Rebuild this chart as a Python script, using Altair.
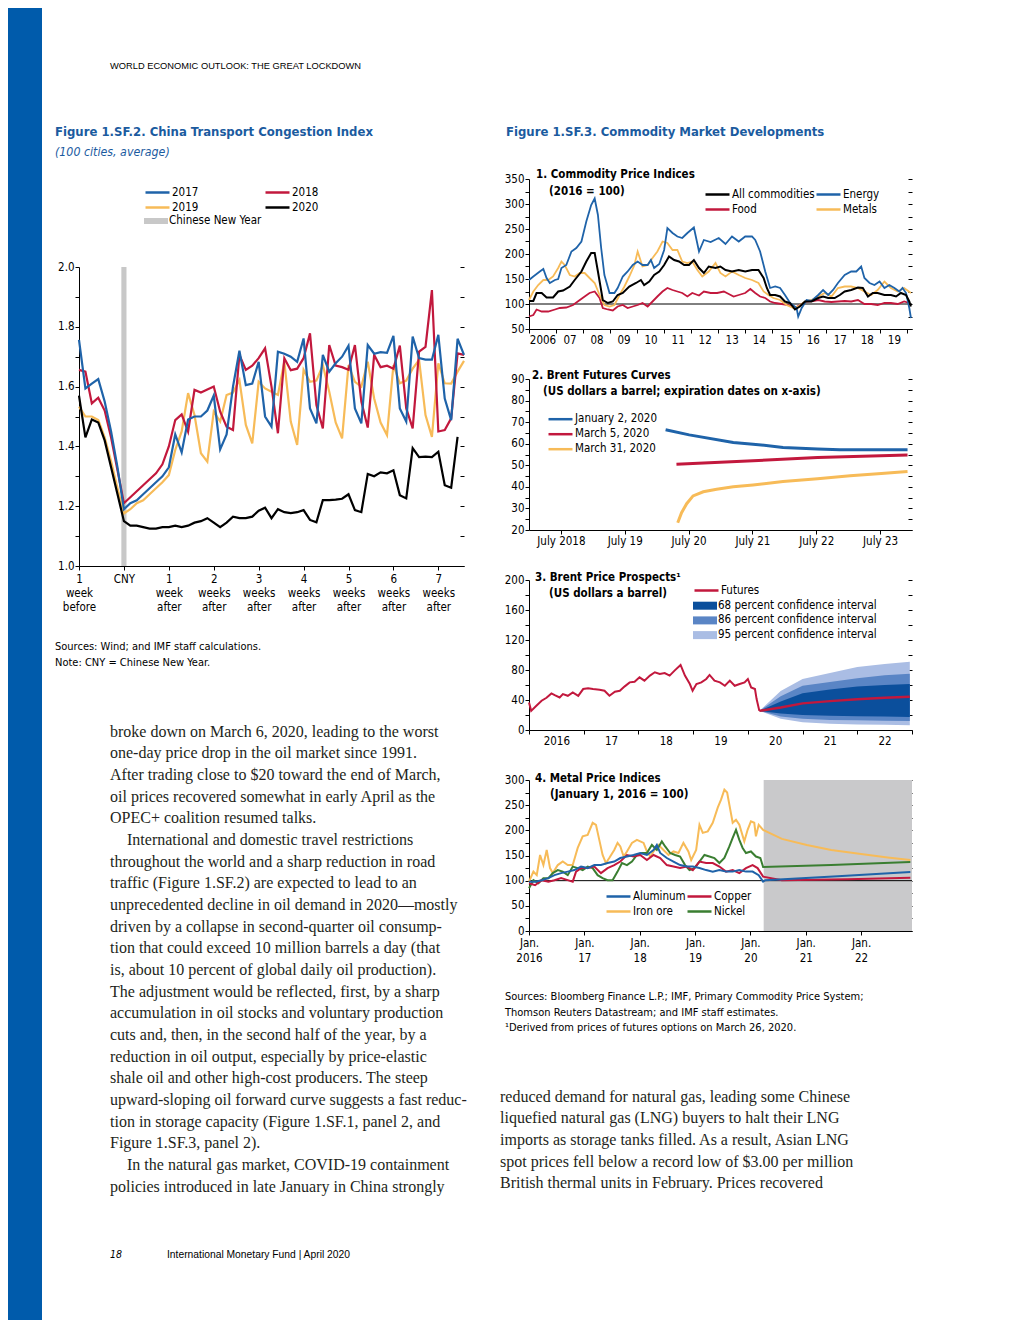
import altair as alt
import pandas as pd

FONT = "DejaVu Sans Condensed, Liberation Sans Narrow, Arial Narrow, sans-serif"
SANS = "Liberation Sans, Arial, sans-serif"
SERIF = "Liberation Serif, Times New Roman, serif"
TITLE_BLUE = "#1b5b9f"
BAND_BLUE = "#005bab"
BLUE = "#1f63a9"
RED = "#c2183d"
YELLOW = "#f7bb58"
BLACK = "#000000"
GREEN = "#3a7e31"
CI68 = "#0b4f9c"
CI86 = "#5a85c5"
CI95 = "#aabde4"
SHADE = "#c9c9cb"
CNYGREY = "#c8c8c8"
FS = 11.5

# ---------------- Figure 1.SF.2 data (days relative to Chinese New Year) ----------------
y2017 = [1.756, 1.594, 1.61, 1.625, 1.55, 1.45, 1.33, 1.19, 1.21, 1.22, 1.24, 1.26, 1.28, 1.30, 1.33,
         1.44, 1.38, 1.49, 1.50, 1.50, 1.52, 1.57, 1.39, 1.44, 1.60, 1.72, 1.605, 1.61, 1.683, 1.50,
         1.466, 1.717, 1.71, 1.70, 1.683, 1.761, 1.527, 1.477, 1.706, 1.65, 1.678, 1.70, 1.737, 1.527,
         1.477, 1.739, 1.71, 1.715, 1.713, 1.77, 1.527, 1.483, 1.767, 1.695, 1.69, 1.69, 1.773, 1.56,
         1.488, 1.76, 1.706]
y2018 = [1.656, 1.65, 1.544, 1.563, 1.52, 1.43, 1.32, 1.21, 1.23, 1.25, 1.27, 1.29, 1.31, 1.34, 1.40,
         1.488, 1.507, 1.449, 1.589, 1.58, 1.59, 1.60, 1.516, 1.466, 1.455, 1.706, 1.656, 1.67, 1.695,
         1.728, 1.60, 1.444, 1.695, 1.655, 1.66, 1.695, 1.778, 1.538, 1.46, 1.739, 1.67, 1.665, 1.656,
         1.739, 1.55, 1.463, 1.706, 1.665, 1.67, 1.66, 1.737, 1.527, 1.46, 1.717, 1.733, 1.923, 1.45,
         1.455, 1.494, 1.711, 1.706]
y2019 = [1.533, 1.50, 1.50, 1.488, 1.43, 1.35, 1.26, 1.176, 1.19, 1.21, 1.22, 1.24, 1.26, 1.28, 1.304,
         1.388, 1.45, 1.578, 1.505, 1.377, 1.349, 1.516, 1.483, 1.572, 1.58, 1.622, 1.472, 1.41, 1.616,
         1.594, 1.583, 1.572, 1.683, 1.483, 1.405, 1.656, 1.616, 1.62, 1.672, 1.583, 1.48, 1.427, 1.672,
         1.616, 1.6, 1.683, 1.56, 1.48, 1.438, 1.672, 1.611, 1.62, 1.66, 1.689, 1.505, 1.432, 1.678,
         1.611, 1.61, 1.65, 1.686]
y2020 = [1.57, 1.43, 1.49, 1.48, 1.42, 1.33, 1.24, 1.15, 1.135, 1.135, 1.13, 1.125, 1.125, 1.13, 1.13,
         1.135, 1.13, 1.135, 1.145, 1.15, 1.16, 1.145, 1.13, 1.145, 1.165, 1.16, 1.16, 1.165, 1.185,
         1.195, 1.16, 1.19, 1.18, 1.177, 1.18, 1.187, 1.154, 1.146, 1.22, 1.22, 1.222, 1.225, 1.24,
         1.187, 1.18, 1.308, 1.30, 1.313, 1.31, 1.32, 1.237, 1.226, 1.394, 1.364, 1.366, 1.364, 1.382,
         1.27, 1.262, 1.432]
cong_years = ["2017", "2018", "2019", "2020"]
week_ticks = [-7, 0, 7, 14, 21, 28, 35, 42, 49]

# ---------------- Panel 1: commodity price indices ----------------
energy_t = [2006.00, 2006.16, 2006.40, 2006.53, 2006.65, 2006.77, 2006.96, 2007.08, 2007.20, 2007.38, 2007.57,
            2007.75, 2007.94, 2008.12, 2008.30, 2008.43, 2008.55, 2008.67, 2008.79, 2008.98, 2009.16, 2009.28,
            2009.47, 2009.65, 2009.84, 2010.02, 2010.20, 2010.39, 2010.51, 2010.63, 2010.82, 2011.00, 2011.12,
            2011.31, 2011.49, 2011.67, 2011.86, 2012.10, 2012.29, 2012.47, 2012.72, 2013.02, 2013.27, 2013.51,
            2013.76, 2014.00, 2014.25, 2014.37, 2014.55, 2014.74, 2014.92, 2015.11, 2015.29, 2015.47, 2015.66,
            2015.90, 2015.96, 2016.09, 2016.27, 2016.45, 2016.70, 2016.88, 2017.07, 2017.25, 2017.43, 2017.68,
            2017.92, 2018.11, 2018.29, 2018.41, 2018.60, 2018.78, 2018.97, 2019.15, 2019.33, 2019.52, 2019.70,
            2019.82, 2019.95, 2020.07, 2020.13]
energy_v = [148, 155, 165, 170, 152, 142, 148, 150, 172, 178, 205, 212, 225, 265, 298, 311, 278, 212, 158, 122,
            122, 132, 155, 165, 178, 185, 178, 178, 188, 172, 180, 208, 252, 242, 235, 232, 242, 253, 205, 228,
            224, 232, 220, 235, 225, 235, 235, 228, 205, 165, 132, 135, 132, 118, 102, 92, 75, 92, 108, 106,
            118, 128, 118, 128, 142, 158, 165, 165, 175, 152, 142, 138, 145, 132, 138, 132, 125, 132, 122, 92, 72]
all_t = [2006.00, 2006.16, 2006.28, 2006.47, 2006.65, 2006.89, 2007.08, 2007.26, 2007.51, 2007.69, 2007.94,
         2008.12, 2008.30, 2008.43, 2008.55, 2008.73, 2008.92, 2009.10, 2009.28, 2009.47, 2009.71, 2009.96,
         2010.14, 2010.26, 2010.45, 2010.63, 2010.82, 2011.00, 2011.18, 2011.37, 2011.55, 2011.74, 2011.92,
         2012.10, 2012.29, 2012.47, 2012.65, 2012.90, 2013.08, 2013.27, 2013.51, 2013.76, 2014.00, 2014.25,
         2014.49, 2014.68, 2014.80, 2014.92, 2015.11, 2015.29, 2015.47, 2015.66, 2015.84, 2016.02, 2016.21,
         2016.45, 2016.70, 2016.88, 2017.07, 2017.31, 2017.50, 2017.68, 2017.92, 2018.17, 2018.35, 2018.54,
         2018.72, 2018.90, 2019.15, 2019.39, 2019.58, 2019.76, 2019.95, 2020.07, 2020.13]
all_v = [106, 106, 122, 122, 113, 113, 125, 127, 135, 148, 165, 185, 202, 202, 165, 108, 102, 105, 118, 122,
         135, 142, 148, 138, 145, 158, 165, 178, 195, 188, 185, 178, 178, 188, 172, 162, 175, 172, 175, 168,
         165, 168, 165, 168, 168, 152, 132, 118, 118, 115, 105, 102, 89, 95, 105, 105, 112, 115, 112, 112,
         118, 125, 128, 133, 132, 115, 122, 122, 118, 118, 115, 122, 118, 105, 95]
food_t = [2006.00, 2006.16, 2006.28, 2006.47, 2006.71, 2006.96, 2007.14, 2007.38, 2007.63, 2007.88, 2008.06,
          2008.24, 2008.43, 2008.61, 2008.73, 2008.92, 2009.10, 2009.28, 2009.47, 2009.65, 2009.84, 2010.02,
          2010.20, 2010.39, 2010.57, 2010.75, 2010.94, 2011.12, 2011.31, 2011.49, 2011.67, 2011.86, 2012.04,
          2012.29, 2012.47, 2012.72, 2012.96, 2013.21, 2013.39, 2013.57, 2013.76, 2014.00, 2014.19, 2014.37,
          2014.55, 2014.74, 2014.92, 2015.11, 2015.35, 2015.60, 2015.84, 2016.02, 2016.27, 2016.51, 2016.70,
          2016.94, 2017.19, 2017.43, 2017.68, 2017.92, 2018.17, 2018.41, 2018.66, 2018.90, 2019.15, 2019.39,
          2019.64, 2019.88, 2020.07]
food_v = [75, 78, 89, 85, 85, 89, 92, 93, 98, 108, 115, 122, 125, 112, 92, 89, 87, 95, 98, 92, 95, 98, 102,
          95, 105, 115, 125, 132, 128, 125, 122, 115, 122, 117, 125, 122, 122, 125, 120, 115, 118, 122, 130,
          122, 115, 112, 105, 102, 100, 98, 92, 98, 105, 106, 108, 105, 104, 105, 106, 105, 108, 100, 100, 98,
          102, 102, 100, 105, 102]
metals_t = [2006.00, 2006.16, 2006.34, 2006.53, 2006.71, 2006.89, 2007.08, 2007.20, 2007.32, 2007.51, 2007.69,
            2007.88, 2008.06, 2008.24, 2008.43, 2008.61, 2008.79, 2008.98, 2009.16, 2009.35, 2009.53, 2009.71,
            2009.90, 2010.02, 2010.20, 2010.39, 2010.57, 2010.75, 2010.94, 2011.12, 2011.31, 2011.49, 2011.67,
            2011.86, 2012.04, 2012.23, 2012.41, 2012.65, 2012.90, 2013.08, 2013.27, 2013.51, 2013.76, 2014.00,
            2014.25, 2014.49, 2014.68, 2014.86, 2015.04, 2015.29, 2015.53, 2015.78, 2015.96, 2016.21, 2016.45,
            2016.70, 2016.94, 2017.19, 2017.43, 2017.68, 2017.92, 2018.17, 2018.41, 2018.66, 2018.90, 2019.15,
            2019.39, 2019.64, 2019.88, 2020.13]
metals_v = [108, 125, 138, 148, 148, 155, 172, 185, 178, 158, 155, 162, 162, 152, 142, 118, 98, 95, 98, 118,
            135, 155, 178, 205, 175, 178, 192, 205, 225, 222, 208, 208, 185, 182, 185, 168, 155, 165, 182, 162,
            155, 165, 158, 152, 148, 142, 125, 118, 112, 108, 98, 92, 95, 105, 108, 115, 122, 115, 132, 135,
            135, 132, 125, 118, 128, 145, 132, 125, 132, 122]
# legend fills column by column: row 1 = All commodities, Energy; row 2 = Food, Metals
p1_names = ["All commodities", "Food", "Energy", "Metals"]
p1_years = list(range(2006, 2021))

# ---------------- Panel 2: Brent futures curves ----------------
jan2_t = [2020.14, 2020.51, 2021.20, 2021.51, 2021.98, 2022.52, 2022.87, 2023.52, 2023.93]
jan2_v = [66.5, 64.1, 60.6, 59.8, 58.3, 57.5, 57.2, 57.2, 57.2]
mar5_t = [2020.31, 2021.51, 2022.52, 2023.93]
mar5_v = [50.5, 52.1, 53.6, 54.8]
mar31_t = [2020.33, 2020.39, 2020.47, 2020.57, 2020.73, 2020.94, 2021.20, 2021.51, 2021.98, 2022.52, 2023.03,
           2023.52, 2023.93]
mar31_v = [23.4, 28, 32.2, 35.8, 37.7, 38.9, 40, 40.9, 42.5, 43.8, 45.1, 46.2, 47.1]
p2_names = ["January 2, 2020", "March 5, 2020", "March 31, 2020"]

# ---------------- Panel 3: Brent price prospects ----------------
brent_t = [2016.00, 2016.04, 2016.13, 2016.23, 2016.32, 2016.41, 2016.47, 2016.56, 2016.62, 2016.71, 2016.80,
           2016.90, 2016.99, 2017.08, 2017.17, 2017.29, 2017.38, 2017.47, 2017.57, 2017.66, 2017.75, 2017.84,
           2017.93, 2018.02, 2018.11, 2018.21, 2018.30, 2018.39, 2018.48, 2018.57, 2018.66, 2018.77, 2018.85,
           2018.94, 2018.99, 2019.06, 2019.15, 2019.24, 2019.30, 2019.39, 2019.49, 2019.58, 2019.67, 2019.76,
           2019.85, 2019.94, 2020.00, 2020.06, 2020.13, 2020.16, 2020.21]
brent_v = [36.7, 25.5, 32, 39, 43, 48.8, 46.5, 43.4, 47.9, 45.6, 50.1, 45.6, 54.6, 55.5, 54.6, 53.7, 52.3,
           45.6, 51, 52.3, 58.2, 63.5, 64.4, 70.2, 65.8, 72.5, 77, 74.7, 76, 72.5, 79.2, 86.8, 72.5, 61.3,
           52.3, 61.3, 63.5, 68, 73.4, 65.8, 63.5, 59, 65.8, 59, 61.3, 63.5, 68, 56.8, 54.6, 41.2, 25.5]
fan_t = [2020.21, 2020.60, 2021.00, 2021.50, 2022.00, 2022.50, 2022.96]
futures_v = [25.5, 30, 35.5, 38.5, 41, 43, 44.3]
ci68_lo = [25.5, 22, 20, 19, 18.5, 18, 17.5]
ci68_hi = [25.5, 38, 49, 54, 58, 60, 61.5]
ci86_lo = [25.5, 18, 15, 13.5, 13, 12.5, 12]
ci86_hi = [25.5, 45, 59, 64, 69, 73, 75]
ci95_lo = [25.5, 15, 10.5, 8.5, 7.5, 7, 6.5]
ci95_hi = [25.5, 52, 68, 76, 84, 88, 91]
ci_names = ["68 percent confidence interval", "86 percent confidence interval", "95 percent confidence interval"]

# ---------------- Panel 4: metal price indices ----------------
iron_t = [2016.00, 2016.08, 2016.14, 2016.20, 2016.26, 2016.32, 2016.38, 2016.43, 2016.52, 2016.61, 2016.70,
          2016.79, 2016.88, 2016.97, 2017.06, 2017.15, 2017.21, 2017.27, 2017.33, 2017.39, 2017.45, 2017.54,
          2017.60, 2017.65, 2017.71, 2017.77, 2017.86, 2017.95, 2018.01, 2018.07, 2018.13, 2018.19, 2018.25,
          2018.34, 2018.43, 2018.52, 2018.61, 2018.70, 2018.79, 2018.88, 2018.93, 2019.02, 2019.08, 2019.14,
          2019.23, 2019.32, 2019.41, 2019.47, 2019.53, 2019.58, 2019.62, 2019.68, 2019.74, 2019.80, 2019.89,
          2019.95, 2020.01, 2020.07, 2020.10, 2020.15, 2020.23, 2020.57, 2021.02, 2021.46, 2022.00, 2022.48,
          2022.89]
iron_v = [98, 118, 111, 151, 131, 161, 125, 115, 131, 138, 131, 131, 165, 188, 191, 215, 211, 181, 151, 135,
          145, 161, 175, 168, 148, 158, 175, 181, 178, 175, 158, 148, 158, 171, 161, 151, 158, 155, 175, 158,
          141, 161, 211, 195, 198, 215, 245, 261, 281, 275, 251, 215, 221, 211, 178, 201, 218, 215, 188, 211,
          201, 183, 171, 161, 153, 146, 141]
nickel_t = [2016.00, 2016.08, 2016.17, 2016.26, 2016.35, 2016.43, 2016.52, 2016.61, 2016.70, 2016.79, 2016.88,
            2016.97, 2017.06, 2017.15, 2017.24, 2017.33, 2017.42, 2017.51, 2017.60, 2017.68, 2017.77, 2017.86,
            2017.95, 2018.04, 2018.13, 2018.22, 2018.31, 2018.40, 2018.46, 2018.55, 2018.64, 2018.73, 2018.82,
            2018.90, 2018.99, 2019.08, 2019.17, 2019.26, 2019.35, 2019.44, 2019.53, 2019.62, 2019.68, 2019.74,
            2019.80, 2019.86, 2019.92, 2020.01, 2020.10, 2020.18, 2020.23, 2021.46, 2022.89]
nickel_v = [85, 101, 95, 105, 105, 115, 121, 118, 111, 128, 125, 121, 128, 125, 111, 105, 101, 101, 118, 135,
            131, 138, 151, 155, 155, 171, 161, 178, 168, 155, 151, 148, 131, 121, 125, 138, 151, 148, 145, 135,
            145, 168, 185, 201, 181, 165, 155, 158, 148, 145, 127, 131, 137]
copper_t = [2016.00, 2016.11, 2016.23, 2016.35, 2016.46, 2016.58, 2016.70, 2016.79, 2016.85, 2016.94, 2017.06,
            2017.18, 2017.30, 2017.42, 2017.54, 2017.65, 2017.77, 2017.89, 2018.01, 2018.13, 2018.25, 2018.37,
            2018.49, 2018.61, 2018.73, 2018.85, 2018.96, 2019.08, 2019.20, 2019.32, 2019.44, 2019.56, 2019.68,
            2019.80, 2019.92, 2020.04, 2020.13, 2020.23, 2020.57, 2021.76, 2022.89]
copper_v = [95, 91, 101, 98, 101, 105, 101, 98, 118, 125, 125, 128, 115, 125, 131, 138, 151, 148, 151, 141,
            151, 145, 131, 128, 125, 128, 121, 138, 135, 135, 128, 118, 121, 115, 125, 131, 125, 108, 101, 103,
            106]
alum_t = [2016.00, 2016.11, 2016.23, 2016.35, 2016.46, 2016.58, 2016.70, 2016.82, 2016.94, 2017.06, 2017.18,
          2017.30, 2017.42, 2017.54, 2017.65, 2017.77, 2017.89, 2018.01, 2018.13, 2018.25, 2018.31, 2018.37,
          2018.49, 2018.61, 2018.73, 2018.85, 2018.96, 2019.08, 2019.20, 2019.32, 2019.44, 2019.56, 2019.68,
          2019.80, 2019.92, 2020.04, 2020.15, 2020.23, 2020.27, 2021.58, 2022.89]
alum_v = [98, 98, 101, 105, 111, 115, 118, 121, 128, 125, 131, 131, 135, 138, 145, 148, 151, 155, 151, 161,
          171, 155, 145, 138, 131, 128, 128, 125, 121, 118, 121, 118, 118, 121, 118, 118, 111, 98, 101, 109, 117]
# legend fills column by column: row 1 = Aluminum, Copper; row 2 = Iron ore, Nickel
p4_names = ["Aluminum", "Iron ore", "Copper", "Nickel"]
outlook_start = 2020.24

# ---------------- Texts ----------------
HEADER = "WORLD ECONOMIC OUTLOOK: THE GREAT LOCKDOWN"
TITLE_L = "Figure 1.SF.2. China Transport Congestion Index"
SUB_L = "(100 cities, average)"
SOURCES_L = ["Sources: Wind; and IMF staff calculations.", "Note: CNY = Chinese New Year."]
TITLE_R = "Figure 1.SF.3. Commodity Market Developments"
SOURCES_R = ["Sources: Bloomberg Finance L.P.; IMF, Primary Commodity Price System;",
             "Thomson Reuters Datastream; and IMF staff estimates.",
             "\u00b9Derived from prices of futures options on March 26, 2020."]
BODY_L = [
    "broke down on March 6, 2020, leading to the worst",
    "one-day price drop in the oil market since 1991.",
    "After trading close to $20 toward the end of March,",
    "oil prices recovered somewhat in early April as the",
    "OPEC+ coalition resumed talks.",
    "International and domestic travel restrictions",
    "throughout the world and a sharp reduction in road",
    "traffic (Figure 1.SF.2) are expected to lead to an",
    "unprecedented decline in oil demand in 2020\u2014mostly",
    "driven by a collapse in second-quarter oil consump-",
    "tion that could exceed 10 million barrels a day (that",
    "is, about 10 percent of global daily oil production).",
    "The adjustment would be reflected, first, by a sharp",
    "accumulation in oil stocks and voluntary production",
    "cuts and, then, in the second half of the year, by a",
    "reduction in oil output, especially by price-elastic",
    "shale oil and other high-cost producers. The steep",
    "upward-sloping oil forward curve suggests a fast reduc-",
    "tion in storage capacity (Figure 1.SF.1, panel 2, and",
    "Figure 1.SF.3, panel 2).",
    "In the natural gas market, COVID-19 containment",
    "policies introduced in late January in China strongly",
]
BODY_L_INDENTED = [5, 20]   # paragraph first lines
BODY_R = [
    "reduced demand for natural gas, leading some Chinese",
    "liquefied natural gas (LNG) buyers to halt their LNG",
    "imports as storage tanks filled. As a result, Asian LNG",
    "spot prices fell below a record low of $3.00 per million",
    "British thermal units in February. Prices recovered",
]
PAGE_NO = "18"
FOOTER = "International Monetary Fund | April 2020"


# ---------------- helpers ----------------
def series(name, t, v, tcol="t"):
    n = min(len(t), len(v))
    return pd.DataFrame({tcol: t[:n], "v": v[:n], "s": name})


def text_layer(s, x, y, size=FS, font=FONT, weight="normal", style="normal", color="black",
               align="left", baseline="middle", line_height=None):
    kw = dict(font=font, fontSize=size, fontWeight=weight, fontStyle=style, fill=color,
              align=align, baseline=baseline)
    if line_height:
        kw.update(lineBreak="\n", lineHeight=line_height)
    return alt.Chart(pd.DataFrame({"t": [s]})).mark_text(**kw).encode(
        x=alt.value(x), y=alt.value(y), text="t:N")


def body_layers(lines, x, y0, lh, indented=(), indent=17, size=16):
    """Paragraph text: consecutive lines become one multi-line text mark; first lines are indented."""
    out, block, start = [], [], 0
    for i, s in enumerate(lines):
        if i in indented:
            if block:
                out.append(text_layer("\n".join(block), x, y0 + start * lh, size=size, font=SERIF,
                                      color="#231f20", baseline="alphabetic", line_height=lh))
            out.append(text_layer(s, x + indent, y0 + i * lh, size=size, font=SERIF,
                                  color="#231f20", baseline="alphabetic"))
            block, start = [], i + 1
        else:
            block.append(s)
    if block:
        out.append(text_layer("\n".join(block), x, y0 + start * lh, size=size, font=SERIF,
                              color="#231f20", baseline="alphabetic", line_height=lh))
    return out


def box_layer(x0, x1, y0, y1, color, opacity=1.0):
    return alt.Chart(pd.DataFrame({"a": [0]})).mark_rect(color=color, opacity=opacity).encode(
        x=alt.value(x0), x2=alt.value(x1), y=alt.value(y0), y2=alt.value(y1))


def line_legend(x, y, cols=1, colpad=10):
    return alt.Legend(orient="none", legendX=x, legendY=y, title=None, columns=cols,
                      symbolType="M-1,0H3", symbolSize=144, symbolStrokeWidth=2.5,
                      labelFont=FONT, labelFontSize=FS, labelColor="black", labelOffset=13,
                      labelLimit=400, rowPadding=2, columnPadding=colpad, padding=0)


def rect_legend(x, y, path, rowpad=2):
    return alt.Legend(orient="none", legendX=x, legendY=y, title=None, columns=1,
                      symbolType=path, symbolSize=144, symbolStrokeWidth=0,
                      labelFont=FONT, labelFontSize=FS, labelColor="black", labelOffset=13,
                      labelLimit=400, rowPadding=rowpad, padding=0)


def left_axis(vals, expr):
    return alt.Axis(values=vals, title=None, orient="left", tickSize=4, labelPadding=1, labelExpr=expr)


def right_ticks(vals):
    return alt.Axis(values=vals, labels=False, domain=False, title=None, orient="right",
                    tickSize=4, offset=-4)


def independent(c):
    return c.resolve_scale(color="independent", fill="independent").resolve_legend(
        color="independent", fill="independent")


W_L, W_R = 385, 383

# ---------------- Left figure ----------------
cong = pd.concat([
    pd.DataFrame({"day": list(range(-7, -7 + len(vals))), "v": vals, "year": yr})
    for yr, vals in zip(cong_years, [y2017, y2018, y2019, y2020])
])
cny_df = pd.DataFrame({"x0": [-0.4], "x1": [0.4], "y0": [1.0], "y1": [2.0], "lab": ["Chinese New Year"]})
XS = alt.Scale(domain=[-7, 53], nice=False, zero=False)
YS = alt.Scale(domain=[1.0, 2.0], nice=False, zero=False)
y_ticks = [round(1.0 + i / 10, 1) for i in range(11)]
# legend fills column by column: row 1 = 2017, 2018; row 2 = 2019, 2020
cong_color = alt.Scale(domain=["2017", "2019", "2018", "2020"], range=[BLUE, YELLOW, RED, BLACK])
x_axis_c = alt.Axis(values=week_ticks, title=None, labelFlush=False, labelOverlap=False,
                    labelLineHeight=14, labelPadding=3, tickSize=4,
                    labelExpr="datum.value == -7 ? ['1','week','before'] : datum.value == 0 ? 'CNY' : "
                              "[toString(datum.value/7), datum.value == 7 ? 'week' : 'weeks', 'after']")

cny_layer = alt.Chart(cny_df).mark_rect().encode(
    x=alt.X("x0:Q", scale=XS, axis=x_axis_c), x2="x1:Q",
    y=alt.Y("y0:Q", scale=YS,
            axis=left_axis(y_ticks, "round(datum.value*10) % 2 == 0 ? format(datum.value, '.1f') : ''")),
    y2="y1:Q",
    fill=alt.Fill("lab:N", scale=alt.Scale(domain=["Chinese New Year"], range=[CNYGREY]),
                  legend=rect_legend(65, -52, "M-1,-0.5H3V0.5H-1Z")))
cong_layers = [cny_layer]
for i, yr in enumerate(["2019", "2018", "2017", "2020"]):
    cong_layers.append(
        alt.Chart(cong).transform_filter(alt.datum.year == yr).mark_line(strokeWidth=2.2).encode(
            x=alt.X("day:Q", scale=XS),
            y=alt.Y("v:Q", scale=YS, axis=right_ticks(y_ticks) if i == 0 else None),
            color=alt.Color("year:N", scale=cong_color,
                            legend=line_legend(65, -82, cols=2, colpad=61) if i == 0 else None)))
L1 = alt.layer(*cong_layers).resolve_axis(y="independent").properties(width=W_L, height=299)

L0 = alt.layer(
    box_layer(-71, -37, 0, 1312, BAND_BLUE),
    box_layer(-71, 419, 0, 1, "white", opacity=0),
    text_layer(HEADER, 31, 58, size=9.3, font=SANS),
    text_layer(TITLE_L, -24, 124, size=13, weight="bold", color=TITLE_BLUE),
    text_layer(SUB_L, -24, 144, size=12.3, style="italic", color=TITLE_BLUE),
).properties(width=W_L, height=209)

L2 = alt.layer(
    text_layer("\n".join(SOURCES_L), -24, 34, size=11, baseline="alphabetic", line_height=16),
    *body_layers(BODY_L, 31, 120.5, 21.67, indented=BODY_L_INDENTED),
    text_layer(PAGE_NO, 31, 639, size=10.5, style="italic"),
    text_layer(FOOTER, 88, 639, size=10.3, font=SANS),
).properties(width=W_L, height=660)

# ---------------- Right figure ----------------
R0 = alt.layer(
    box_layer(-31, 0, 0, 1, "white", opacity=0),
    text_layer(TITLE_R, -23, 124, size=13, weight="bold", color=TITLE_BLUE),
).properties(width=W_R, height=121)


def panel_titles(l1, x1, y1, l2, x2, y2):
    return [text_layer(l1, x1, y1, weight="bold"),
            text_layer(l2, x2, y2, weight="bold")]


# Panel 1
P1X = alt.Scale(domain=[2006, 2020.17], nice=False, zero=False)
P1Y = alt.Scale(domain=[50, 350], nice=False, zero=False)
p1_yvals = list(range(50, 351, 25))
p1_x_axis = alt.Axis(values=p1_years, tickCount=15, title=None, labelFlush=False, labelOverlap=False,
                     labelSeparation=0, labelBound=False,
                     labelOffset=13.5, tickSize=4, labelPadding=1,
                     labelExpr="datum.value == 2006 ? '2006' : datum.value >= 2020 ? '' : "
                               "slice(toString(datum.value), 2)")
p1_color = alt.Scale(domain=p1_names, range=[BLACK, RED, BLUE, YELLOW])
p1_data = {"All commodities": (all_t, all_v), "Energy": (energy_t, energy_v),
           "Food": (food_t, food_v), "Metals": (metals_t, metals_v)}
p1_layers = [alt.Chart(pd.DataFrame({"y": [100]})).mark_rule(color="black", strokeWidth=1).encode(
    y=alt.Y("y:Q", scale=P1Y, axis=left_axis(p1_yvals, "datum.value % 50 == 0 ? toString(datum.value) : ''")))]
for i, name in enumerate(["Food", "Metals", "Energy", "All commodities"]):
    t, v = p1_data[name]
    xenc = alt.X("t:Q", scale=P1X, axis=p1_x_axis) if i == 0 else alt.X("t:Q", scale=P1X)
    p1_layers.append(alt.Chart(series(name, t, v)).mark_line(
        strokeWidth=2 if name == "All commodities" else 1.8).encode(
        x=xenc,
        y=alt.Y("v:Q", scale=P1Y, axis=right_ticks(p1_yvals) if i == 0 else None),
        color=alt.Color("s:N", scale=p1_color,
                        legend=line_legend(175, 8, cols=2, colpad=-12) if i == 0 else None)))
p1_layers += panel_titles("1. Commodity Price Indices", 7, -4, "(2016 = 100)", 20, 12.7)
R1 = alt.layer(*p1_layers).resolve_axis(y="independent").properties(width=W_R, height=150)

# Panel 2
P2X = alt.Scale(domain=[2018, 2024], nice=False, zero=False)
P2Y = alt.Scale(domain=[20, 90], nice=False, zero=False)
p2_yvals = list(range(20, 91, 5))
p2_x_axis = alt.Axis(values=[2018.5, 2019.5, 2020.5, 2021.5, 2022.5, 2023.5], title=None, labelFlush=False,
                     labelOverlap=False, tickSize=4, labelPadding=1,
                     labelExpr="datum.value < 2019 ? 'July 2018' : 'July ' + slice(toString(floor(datum.value)), 2)")
p2_color = alt.Scale(domain=p2_names, range=[BLUE, RED, YELLOW])
p2_df = pd.concat([series(p2_names[0], jan2_t, jan2_v), series(p2_names[1], mar5_t, mar5_v),
                   series(p2_names[2], mar31_t, mar31_v)])
p2_layers = []
for i, name in enumerate(p2_names):
    xenc = alt.X("t:Q", scale=P2X, axis=p2_x_axis) if i == 0 else alt.X("t:Q", scale=P2X)
    if i == 0:
        yax = left_axis(p2_yvals, "datum.value % 10 == 0 ? toString(datum.value) : ''")
    elif i == 1:
        yax = right_ticks(p2_yvals)
    else:
        yax = None
    p2_layers.append(alt.Chart(p2_df).transform_filter(alt.datum.s == name).mark_line(strokeWidth=3).encode(
        x=xenc, y=alt.Y("v:Q", scale=P2Y, axis=yax),
        color=alt.Color("s:N", scale=p2_color, legend=line_legend(18, 32.7) if i == 0 else None)))
p2_layers += panel_titles("2. Brent Futures Curves", 3, -3.3,
                          "(US dollars a barrel; expiration dates on x-axis)", 14, 12.7)
R2 = alt.layer(*p2_layers).resolve_axis(y="independent").properties(width=W_R, height=151)

# Panel 3
P3X = alt.Scale(domain=[2016, 2023], nice=False, zero=False)
P3Y = alt.Scale(domain=[0, 200], nice=False, zero=False)
p3_yvals = list(range(0, 201, 20))
p3_x_axis = alt.Axis(values=list(range(2016, 2024)), title=None, labelFlush=False, labelOverlap=False,
                     labelOffset=27.3, tickSize=4, labelPadding=1,
                     labelExpr="datum.value == 2016 ? '2016' : datum.value >= 2023 ? '' : "
                               "slice(toString(datum.value), 2)")
fan_df = pd.concat([
    pd.DataFrame({"t": fan_t, "lo": lo, "hi": hi, "ci": nm})
    for nm, lo, hi in zip(ci_names, [ci68_lo, ci86_lo, ci95_lo], [ci68_hi, ci86_hi, ci95_hi])
])
ci_fill = alt.Scale(domain=ci_names, range=[CI68, CI86, CI95])
p3_layers = []
for i, nm in enumerate([ci_names[2], ci_names[1], ci_names[0]]):
    xenc = alt.X("t:Q", scale=P3X, axis=p3_x_axis) if i == 0 else alt.X("t:Q", scale=P3X)
    if i == 0:
        yax = left_axis(p3_yvals, "datum.value % 40 == 0 ? toString(datum.value) : ''")
    elif i == 1:
        yax = right_ticks(p3_yvals)
    else:
        yax = None
    p3_layers.append(alt.Chart(fan_df).transform_filter(alt.datum.ci == nm).mark_area(opacity=1).encode(
        x=xenc, y=alt.Y("lo:Q", scale=P3Y, axis=yax), y2="hi:Q",
        fill=alt.Fill("ci:N", scale=ci_fill,
                      legend=rect_legend(164, 19.7, "M-1,-0.667H3V0.667H-1Z", rowpad=2.7) if i == 0 else None)))
p3_layers.append(alt.Chart(series("Brent", brent_t, brent_v)).mark_line(strokeWidth=2, color=RED).encode(
    x=alt.X("t:Q", scale=P3X), y=alt.Y("v:Q", scale=P3Y, axis=None)))
p3_layers.append(alt.Chart(series("Futures", fan_t, futures_v)).mark_line(strokeWidth=2.5).encode(
    x=alt.X("t:Q", scale=P3X), y=alt.Y("v:Q", scale=P3Y, axis=None),
    color=alt.Color("s:N", scale=alt.Scale(domain=["Futures"], range=[RED]), legend=line_legend(164, 3))))
p3_layers += panel_titles("3. Brent Price Prospects\u00b9", 6, -1.7, "(US dollars a barrel)", 20, 14.3)
R3 = alt.layer(*p3_layers).resolve_axis(y="independent").properties(width=W_R, height=150)

# Panel 4
P4X = alt.Scale(domain=[2016, 2022.92], nice=False, zero=False)
P4Y = alt.Scale(domain=[0, 300], nice=False, zero=False)
p4_yvals = list(range(0, 301, 25))
p4_x_axis = alt.Axis(values=list(range(2016, 2023)), title=None, labelFlush=False, labelOverlap=False,
                     tickSize=4, labelPadding=2, labelLineHeight=15,
                     labelExpr="['Jan.', datum.value == 2016 ? '2016' : slice(toString(datum.value), 2)]")
shade_df = pd.DataFrame({"x0": [outlook_start], "x1": [2022.92], "y0": [0], "y1": [300]})
p4_color = alt.Scale(domain=p4_names, range=[BLUE, YELLOW, RED, GREEN])
p4_data = {"Aluminum": (alum_t, alum_v), "Copper": (copper_t, copper_v),
           "Iron ore": (iron_t, iron_v), "Nickel": (nickel_t, nickel_v)}
p4_layers = [
    alt.Chart(shade_df).mark_rect(color=SHADE).encode(
        x=alt.X("x0:Q", scale=P4X, axis=p4_x_axis), x2="x1:Q",
        y=alt.Y("y0:Q", scale=P4Y,
                axis=left_axis(p4_yvals, "datum.value % 50 == 0 ? toString(datum.value) : ''")),
        y2="y1:Q"),
    alt.Chart(pd.DataFrame({"y": [100]})).mark_rule(color="black", strokeWidth=1).encode(
        y=alt.Y("y:Q", scale=P4Y, axis=right_ticks(p4_yvals))),
]
for i, name in enumerate(["Iron ore", "Nickel", "Copper", "Aluminum"]):
    t, v = p4_data[name]
    p4_layers.append(alt.Chart(series(name, t, v)).mark_line(strokeWidth=2).encode(
        x=alt.X("t:Q", scale=P4X), y=alt.Y("v:Q", scale=P4Y, axis=None),
        color=alt.Color("s:N", scale=p4_color,
                        legend=line_legend(76, 109, cols=2, colpad=-4) if i == 0 else None)))
p4_layers += panel_titles("4. Metal Price Indices", 6, -1, "(January 1, 2016 = 100)", 21, 15)
R4 = alt.layer(*p4_layers).resolve_axis(y="independent").properties(width=W_R, height=151)

R5 = alt.layer(
    text_layer("\n".join(SOURCES_R), -24, 19, size=11, baseline="alphabetic", line_height=15.5),
    *body_layers(BODY_R, -29, 120.5, 21.67),
).properties(width=W_R, height=300)

left_col = independent(alt.vconcat(L0, L1, L2, spacing=50).properties(bounds="flush"))
right_col = independent(alt.vconcat(R0, R1, R2, R3, R4, R5, spacing=50).properties(bounds="flush"))

chart = independent(alt.hconcat(left_col, right_col, spacing=0)).properties(
    bounds="full", padding=0, background="white"
).configure_view(stroke=None).configure_axis(
    labelFont=FONT, labelFontSize=FS, labelColor="black", domainColor="black", tickColor="black",
    grid=False, domainWidth=1, tickWidth=1
).configure_legend(labelFont=FONT, labelFontSize=FS, labelColor="black")

chart.save("out.html", embed_options={"renderer": "svg", "actions": False})
